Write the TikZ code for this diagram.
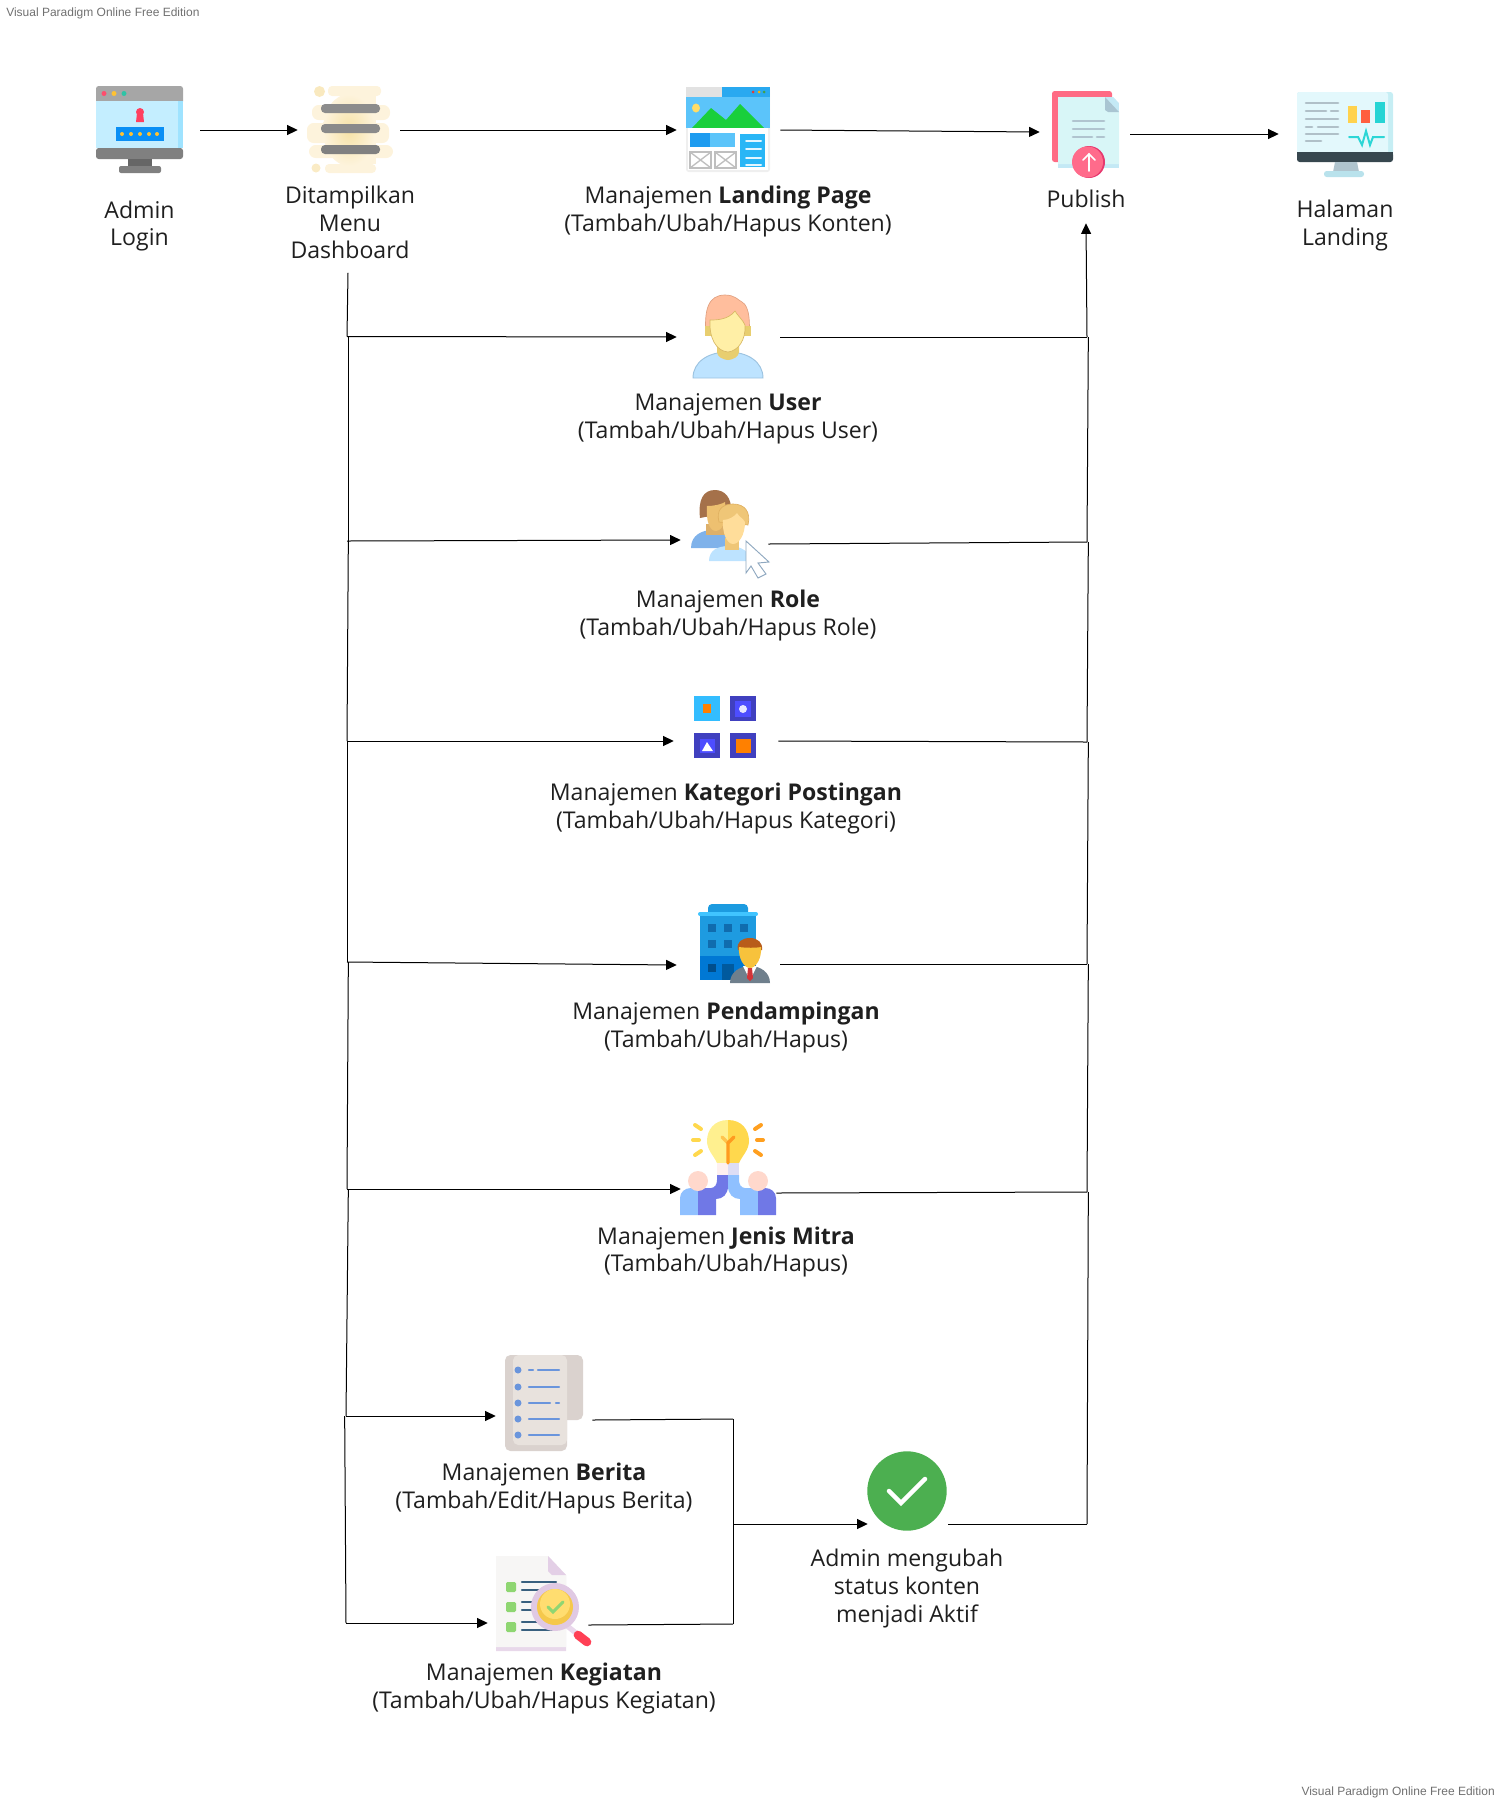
\documentclass[tikz,border=0pt]{standalone}
\usepackage{fontspec}
\setmainfont{Open Sans}
\newfontfamily\wmfont{Liberation Sans}
\usetikzlibrary{arrows.meta}
\definecolor{labelcol}{HTML}{1F1F1F}
\definecolor{wmcol}{HTML}{707070}
\definecolor{hairedge}{HTML}{E0A080}
\definecolor{shirtedge}{HTML}{9CC3E0}
\definecolor{faceedge}{HTML}{D8B864}
\definecolor{roleedge}{HTML}{E0B060}
\definecolor{cursoredge}{HTML}{8FA8C0}
\newcommand{\ic}[3][]{\definecolor{tmpc}{HTML}{#2}\fill[tmpc,#1] #3;}
\newcommand{\il}[3]{\definecolor{tmpc}{HTML}{#1}\draw[tmpc,line width=#2,line cap=round] #3;}
\tikzset{
iconbox/.style={ % Invisible box: connectors stop at its sides
inner sep=0pt,
minimum height=60pt,
minimum width=#1*0.75pt},
lbl/.style={ % Text under each icon
align=center,
inner sep=0pt,
text=labelcol,
font=\fontsize{17.3}{20.8}\selectfont},
wm/.style={
inner sep=0pt,
text=wmcol,
font=\wmfont\fontsize{9}{11}\selectfont},
flow/.style={
draw,
-{Triangle[length=8pt,width=7.5pt]},
line width=0.75pt},
link/.style={
draw,
line width=0.75pt}}
\begin{document}
\begin{tikzpicture}[x=0.75pt,y=-0.75pt]
\useasboundingbox (0,0) rectangle (1500,1800);

% boxes
\node[iconbox=120] (login) at (140,130) {};
\node[iconbox=102] (menu) at (349,130) {};
\node[iconbox=103] (landing) at (728.5,130) {};
\node[iconbox=90] (publish) at (1085,132) {};
\node[iconbox=121] (halaman) at (1339.5,134) {};
\node[iconbox=103] (user) at (728.5,337) {};
\node[iconbox=87] (role) at (724.5,540) {};
\node[iconbox=104] (kategori) at (726,741) {};
\node[iconbox=103] (pendampingan) at (728.5,965) {};
\node[iconbox=95] (jenis) at (728.5,1189) {};
\node[iconbox=96] (berita) at (544,1416) {};
\node[iconbox=100] (kegiatan) at (538,1623) {};
\node[iconbox=80] (aktif) at (908,1524) {};

% labels
\node[lbl] (loginlbl) at (139.5,226) {Admin\\Login};
\node[lbl,minimum height=75pt] (menulbl) at (350,222.5) {Ditampilkan\\Menu\\Dashboard};
\node[lbl] (landinglbl) at (728,211.5) {Manajemen \textbf{Landing Page}\\(Tambah/Ubah/Hapus Konten)};
\node[lbl,minimum height=36pt] (publishlbl) at (1086,199) {Publish};
\node[lbl] (halamanlbl) at (1345,225.5) {Halaman\\Landing};
\node[lbl] (userlbl) at (728,418.5) {Manajemen \textbf{User}\\(Tambah/Ubah/Hapus User)};
\node[lbl] (rolelbl) at (728,615.5) {Manajemen \textbf{Role}\\(Tambah/Ubah/Hapus Role)};
\node[lbl] (kategorilbl) at (726,808.5) {Manajemen \textbf{Kategori Postingan}\\(Tambah/Ubah/Hapus Kategori)};
\node[lbl] (pendampinganlbl) at (726,1027.5) {Manajemen \textbf{Pendampingan}\\(Tambah/Ubah/Hapus)};
\node[lbl] (jenislbl) at (726,1252) {Manajemen \textbf{Jenis Mitra}\\(Tambah/Ubah/Hapus)};
\node[lbl] (beritalbl) at (544,1488.5) {Manajemen \textbf{Berita}\\(Tambah/Edit/Hapus Berita)};
\node[lbl] (kegiatanlbl) at (544,1688.5) {Manajemen \textbf{Kegiatan}\\(Tambah/Ubah/Hapus Kegiatan)};
\node[lbl] (aktiflbl) at (907,1588.5) {Admin mengubah\\status konten\\menjadi Aktif};
\node[wm,anchor=west] (wmtop) at (6,13) {Visual Paradigm Online Free Edition};
\node[wm,anchor=east] (wmbottom) at (1495,1792) {Visual Paradigm Online Free Edition};

% corners of the two long lines
\coordinate (luser) at (347,336.5);
\coordinate (lrole) at (347,541);
\coordinate (lkategori) at (347,741);
\coordinate (lpendampingan) at (347,962);
\coordinate (ljenis) at (347,1189);
\coordinate (lberita) at (346,1416);
\coordinate (lkegiatan) at (346,1623);
\coordinate (ruser) at (1087,337);
\coordinate (rrole) at (1087,542);
\coordinate (rkategori) at (1087,742);
\coordinate (rpendampingan) at (1087,964);
\coordinate (rjenis) at (1087,1192);
\coordinate (raktif) at (1087,1524);
\coordinate (mberita) at (733,1419);
\coordinate (mkegiatan) at (733,1624);
\coordinate (maktif) at (733,1524);

% top row
\draw[flow] (login.east) -- (menu.west);
\draw[flow] (menu.east) -- (landing.west);
\draw[flow] (landing.east) -- (publish.west);
\draw[flow] ([yshift=-1.5pt]publish.east) -- (halaman.west);

% left side
\draw[link] ([xshift=-1.5pt]menulbl.south) -- (luser);
\draw[flow] (luser) -- (user.west);
\draw[link] ([xshift=1pt]luser) -- ([xshift=1pt]lrole) ;
\draw[flow] (lrole) -- (role.west);
\draw[link] ([xshift=1pt]lrole) -- (lkategori);
\draw[flow] (lkategori) -- (kategori.west);
\draw[link] (lkategori) -- (lpendampingan);
\draw[flow] (lpendampingan) -- (pendampingan.west);
\draw[link] ([xshift=1pt]lpendampingan) -- (ljenis);
\draw[flow] (ljenis) -- (jenis.west);
\draw[link] ([xshift=1pt]ljenis) -- (lberita);
\draw[flow] (lberita) -- (berita.west);
\draw[link] ([xshift=-1pt]lberita) -- (lkegiatan);
\draw[flow] (lkegiatan) -- (kegiatan.west);

% right side
\draw[link] (user.east) -- (ruser);
\draw[flow] (ruser) -- (publishlbl.south);
\draw[link] ([yshift=-3pt]role.east) -- (rrole);
\draw[link] (rrole) -- ([xshift=1pt]ruser);
\draw[link] (kategori.east) -- (rkategori);
\draw[link] (rkategori) -- ([xshift=1pt]rrole);
\draw[link] ([yshift=0.75pt]pendampingan.east) -- (rpendampingan);
\draw[link] (rpendampingan) -- ([xshift=1pt]rkategori);
\draw[link] ([yshift=-3pt]jenis.east) -- (rjenis);
\draw[link] (rjenis) -- ([xshift=1pt]rpendampingan);
\draw[link] (aktif.east) -- (raktif);
\draw[link] (raktif) -- ([xshift=1pt]rjenis);

% berita and kegiatan to aktif
\draw[link] ([yshift=-3pt]berita.east) -- (mberita);
\draw[link] (mberita) -- (mkegiatan);
\draw[link] ([yshift=-1.5pt]kegiatan.east) -- (mkegiatan);
\draw[flow] (maktif) -- (aktif.west);

% icon: login
\ic[rounded corners=2pt]{A6A6A6}{(96,86) rectangle (183,104)}
\ic{C4EEFF}{(96,101) rectangle (183,148)}
\ic{9FE3FF}{(178,101) rectangle (183,148)}
\ic[rounded corners=2pt]{808080}{(96,148) rectangle (183,159)}
\ic{666666}{(128,159) rectangle (152,166)}
\ic[rounded corners=1.5pt]{808080}{(119,166) rectangle (161,173)}
\ic{FF4D6D}{(104,93.5) circle (2.5)}
\ic{FFC233}{(114,93.5) circle (2.5)}
\ic{2EC4A6}{(124,93.5) circle (2.5)}
\ic{FF4060}{(140,112) circle (4)}
\ic{FF4060}{(136,122) -- (137,113) -- (143,113) -- (144,122) -- cycle}
\ic{0A8FF5}{(116,127) rectangle (164,141)}
\foreach \dotx in {122,131,140,149,157} {\ic{FFC233}{(\dotx,134) circle (2)}}

% icon: menu
\ic[rounded corners=3pt]{FDF3DC}{(328,86) rectangle (381,96)}
\ic[rounded corners=5pt]{FDF3DC}{(312,105) rectangle (390,120)}
\ic[rounded corners=5pt]{FDF3DC}{(307,123) rectangle (389,143)}
\ic[rounded corners=5pt]{FDF3DC}{(309,145) rectangle (393,158)}
\ic[rounded corners=3pt]{FDF3DC}{(325,164) rectangle (376,173)}
\ic{FDF3DC}{(340,96) rectangle (376,164)}
\ic{F9E9BF}{(319.5,91.5) circle (5.5)}
\ic{FAEBC5}{(316,168) circle (4.5)}
\definecolor{menuin}{HTML}{F6E2A6}\definecolor{menuout}{HTML}{FDF3DC}
\shade[inner color=menuin,outer color=menuout] (349,130) ellipse (26 and 36);
\ic[rounded corners=3pt]{8C8C8C}{(321,104) rectangle (380,113)}
\ic[rounded corners=3pt]{8A8A8A}{(321,124) rectangle (380,133)}
\ic[rounded corners=3pt]{808080}{(321,145) rectangle (380,154)}

% icon: landing page
\ic[rounded corners=2pt]{EFEFEF}{(686,87) rectangle (770,172)}
\ic{29A9F0}{(722,87) rectangle (770,97)}
\ic{5BC4FA}{(686,97) rectangle (770,128)}
\ic{E2E2E2}{(686,87) rectangle (722,97)}
\ic{E53935}{(753,92) circle (1.5)}
\ic{FFB300}{(759,92) circle (1.5)}
\ic{43A047}{(764,92) circle (1.5)}
\ic{FFDD66}{(696,108) ellipse (4 and 4.5)}
\ic{19CF3C}{(692,128) -- (711,108) -- (726,120) -- (740,104) -- (764,128) -- cycle}
\ic{FFFFFF}{(688,128) rectangle (768,170)}
\ic{5BC4FA}{(690,133) rectangle (735,147)}
\ic{1E9CF0}{(690,133) rectangle (710,147)}
\ic{29B6F6}{(740,134) rectangle (765,167)}
\foreach \liney in {141,149,158,165} {\il{E3F6FF}{1.5pt}{(746,\liney) -- (761,\liney)}}
\foreach \envx in {690,715} {
\draw[gray!50,fill=white,line width=1pt] (\envx,152) rectangle ++(21,16);
\draw[gray!50,line width=1pt] (\envx,152) -- ++(21,16) (\envx,168) -- ++(21,-16);
}

% icon: publish
\ic[rounded corners=2pt]{FF6B84}{(1052,91) rectangle (1112,162)}
\ic{C4E9F5}{(1058,97) rectangle (1119,168)}
\ic{D8F6F7}{(1058,97) -- (1105,97) -- (1119,112) -- (1119,164) -- (1058,164) -- cycle}
\ic{FFFFFF}{(1112.5,96) -- (1120,96) -- (1120,104) -- cycle}
\ic{A9C5D2}{(1105,97) -- (1105,110) -- (1108,112) -- (1119,112) -- cycle}
\foreach \liney in {121,129} {\il{B0C4CF}{2pt}{(1073,\liney) -- (1104,\liney)}}
\il{B0C4CF}{2pt}{(1073,137) -- (1092,137)}
\il{B0C4CF}{2pt}{(1097,137) -- (1104,137)}
\ic{E6396F}{(1089,162) circle (16)}
\ic{FF6B8B}{(1087.5,162) circle (15.5)}
\il{FFFFFF}{1.3pt}{(1089,171) -- (1089,154)}
\il{FFFFFF}{1.3pt}{(1083,160) -- (1089,154) -- (1095,160)}

% icon: halaman
\ic[rounded corners=2pt]{C6EEF4}{(1297,92) rectangle (1393,158)}
\ic[rounded corners=2pt]{E3F8FC}{(1297,92) rectangle (1388,156)}
\ic[rounded corners=2pt]{37474F}{(1297,152) rectangle (1393,162)}
\ic{37474F}{(1297,152) rectangle (1393,156)}
\ic{B0C4CE}{(1335,162) -- (1357,162) -- (1359,172) -- (1333,172) -- cycle}
\ic[rounded corners=2pt]{B9E2EC}{(1324,171) rectangle (1364,177)}
\foreach \liney in {103,119,134} {\il{B0C0C8}{2pt}{(1306,\liney) -- (1338,\liney)}}
\il{B0C0C8}{2pt}{(1306,111) -- (1326,111)}
\il{B0C0C8}{2pt}{(1331,111) -- (1338,111)}
\il{B0C0C8}{2pt}{(1306,127) -- (1312,127)}
\il{B0C0C8}{2pt}{(1318,127) -- (1338,127)}
\il{B0C0C8}{2pt}{(1306,141) -- (1321,141)}
\ic{FFD24D}{(1348,106) rectangle (1357,123)}
\ic{FF5F3F}{(1361,110) rectangle (1370,123)}
\ic{26D4D4}{(1375,102) rectangle (1385,123)}
\il{2CD6D6}{1.5pt}{(1349,137) -- (1358,137) -- (1362,145) -- (1366,131) -- (1370,145) -- (1373,137) -- (1384,137)}

% icon: user
\ic[draw=hairedge,line width=0.5pt]{FFBE9D}{(706,335) .. controls (704,310) and (708,295) .. (725,295) .. controls (735,295) and (738,300) .. (742,302) .. controls (750,306) and (750,325) .. (749,335) -- cycle}
\ic{E8CE6F}{(705,326) rectangle (751,336)}
\ic[draw=shirtedge,line width=0.7pt]{BDE3FF}{(693,378) .. controls (693,362) and (708,352) .. (728,352) .. controls (748,352) and (763,362) .. (763,378) -- cycle}
\ic[rounded corners=3pt]{E8CE6F}{(717,342) -- (739,342) -- (739,356) -- (728,361) -- (717,356) -- cycle}
\ic[draw=faceedge,line width=0.5pt]{FFEFA6}{(710,320) .. controls (716,320) and (728,320) .. (735,311) .. controls (737,315) and (743,320) .. (745,325) .. controls (746,340) and (738,351) .. (728,352) .. controls (716,351) and (709,338) .. (710,320) -- cycle}

% icon: role
\ic{7FB2EA}{(691,548) .. controls (691,535) and (702,530) .. (713,530) .. controls (725,530) and (735,537) .. (735,548) -- cycle}
\ic{A5714A}{(700,518) .. controls (698,500) and (703,490) .. (715,490) .. controls (725,490) and (732,498) .. (731,512) -- cycle}
\ic{DDB06A}{(706,524) rectangle (726,535)}
\ic{EDC070}{(707,506) .. controls (715,506) and (722,504) .. (725,502) .. controls (727,515) and (725,530) .. (716,531) .. controls (709,531) and (706,520) .. (707,506) -- cycle}
\ic[draw=roleedge,line width=0.5pt]{EFC677}{(719,522) .. controls (716,510) and (722,504) .. (733,504) .. controls (745,504) and (751,512) .. (748,525) -- cycle}
\ic{BDE3FF}{(709,561) .. controls (709,550) and (718,546) .. (729,546) .. controls (742,546) and (750,552) .. (750,561) -- cycle}
\ic{EFC677}{(725,538) rectangle (739,550)}
\ic{FFDD9A}{(723,520) .. controls (729,520) and (735,516) .. (737,513) .. controls (739,517) and (743,518) .. (745,522) .. controls (745,535) and (739,544) .. (733,544) .. controls (727,544) and (722,533) .. (723,520) -- cycle}
\ic[draw=cursoredge,line width=0.7pt]{FFFFFF}{(746,541) -- (769,562) -- (758,563) -- (766,574) -- (758,578) -- (751,566) -- (746,573) -- cycle}

% icon: kategori
\ic{33BDFF}{(694,696) rectangle (720,721)}
\ic{FF8000}{(703,704) rectangle (711,713)}
\ic{4040BF}{(730,696) rectangle (756,721)}
\ic{4D4DFF}{(735,701) rectangle (751,717)}
\ic{E6E6FF}{(743,709) circle (4)}
\ic{4040BF}{(694,733) rectangle (720,758)}
\ic{4D4DFF}{(700,739) rectangle (715,753)}
\ic{FFFFFF}{(702,751) -- (707,742) -- (713,751) -- cycle}
\ic{4040BF}{(730,733) rectangle (756,758)}
\ic{FF8000}{(736,739) rectangle (751,753)}

% icon: pendampingan
\ic[rounded corners=3pt]{1C9BE0}{(708,904) rectangle (748,916)}
\ic[rounded corners=1.5pt]{40C4FF}{(698,912) rectangle (758,916)}
\ic{1E9BE0}{(700,916) rectangle (756,956)}
\ic{0078D4}{(700,956) rectangle (756,980)}
\foreach \winx/\winy in {708/924,724/924,740/924,708/940,724/940} {\ic{106CAE}{(\winx,\winy) rectangle ++(8,8)}}
\ic{004E8C}{(708,964) rectangle ++(8,8)}
\ic{005A9E}{(722,964) rectangle (734,980)}
\ic{6F7F8C}{(730,983) .. controls (730,972) and (740,966) .. (750,966) .. controls (760,966) and (770,972) .. (770,983) -- cycle}
\ic{FFFFFF}{(743,966) -- (757,966) -- (750,980) -- cycle}
\ic{D13438}{(748,968) -- (752,968) -- (753,978) -- (750,981) -- (747,978) -- cycle}
\ic{B85C1A}{(738,950) .. controls (736,942) and (742,938) .. (750,938) .. controls (758,938) and (763,943) .. (762,950) -- cycle}
\ic{F7C23C}{(739,947) .. controls (746,948) and (756,948) .. (761,947) .. controls (762,958) and (756,968) .. (750,968) .. controls (744,968) and (738,958) .. (739,947) -- cycle}

% icon: jenis mitra
\il{FFD84D}{3pt}{(695,1125) -- (701,1129)}
\il{FFD84D}{3pt}{(693,1140) -- (699,1140)}
\il{FFD84D}{3pt}{(695,1155) -- (701,1151)}
\il{FF9F1F}{3pt}{(755,1129) -- (761,1125)}
\il{FF9F1F}{3pt}{(757,1140) -- (763,1140)}
\il{FF9F1F}{3pt}{(755,1151) -- (761,1155)}
\ic{FFF08F}{(728,1120) .. controls (714,1120) and (707,1130) .. (707,1141) .. controls (707,1150) and (714,1156) .. (717,1163) -- (728,1163) -- cycle}
\ic{FFD84D}{(728,1120) .. controls (742,1120) and (749,1130) .. (749,1141) .. controls (749,1150) and (742,1156) .. (739,1163) -- (728,1163) -- cycle}
\ic{FDF0F0}{(717,1163) rectangle (728,1177)}
\ic{DDDDF5}{(728,1163) rectangle (739,1177)}
\il{FFC44D}{2.5pt}{(722,1137) -- (728,1143)}
\il{FF9A1F}{2.5pt}{(734,1137) -- (728,1143) -- (728,1163)}
\ic{8FC0FF}{(680,1215) -- (680,1198) .. controls (680,1192) and (685,1188) .. (691,1188) -- (698,1188) -- (698,1215) -- cycle}
\ic{7078E6}{(698,1215) -- (698,1188) -- (711,1188) .. controls (715,1188) and (717,1184) .. (717,1180) -- (717,1175) -- (728,1175) -- (728,1186) .. controls (728,1194) and (723,1199) .. (716,1199) -- (716,1215) -- cycle}
\ic{8FC0FF}{(758,1215) -- (758,1188) -- (745,1188) .. controls (741,1188) and (739,1184) .. (739,1180) -- (739,1175) -- (728,1175) -- (728,1186) .. controls (728,1194) and (733,1199) .. (740,1199) -- (740,1215) -- cycle}
\ic{7078E6}{(776,1215) -- (776,1198) .. controls (776,1192) and (771,1188) .. (765,1188) -- (758,1188) -- (758,1215) -- cycle}
\ic{FFD8CC}{(698,1181) circle (10)}
\ic{FFD8CC}{(758,1181) circle (10)}

% icon: berita
\ic[rounded corners=4pt]{DAD2CE}{(545,1355) rectangle (583,1420)}
\ic[rounded corners=4pt]{DAD2CE}{(505,1355) rectangle (567,1451)}
\ic[rounded corners=4pt]{E8E2DD}{(513,1355) rectangle (567,1445)}
\foreach \liney in {1370,1387,1403,1419,1435} {\ic{6A95DC}{(518,\liney) circle (3.5)}}
\foreach \liney in {1387,1419,1435} {\il{6A95DC}{1.8pt}{(529,\liney) -- (559,\liney)}}
\il{6A95DC}{1.8pt}{(529,1370) -- (533,1370)}
\il{6A95DC}{1.8pt}{(538,1370) -- (559,1370)}
\il{6A95DC}{1.8pt}{(529,1403) -- (550,1403)}
\il{6A95DC}{1.8pt}{(556,1403) -- (559,1403)}

% icon: kegiatan
\ic{E8D8EA}{(496,1556) -- (548,1556) -- (566,1575) -- (566,1651) -- (496,1651) -- cycle}
\ic{F7F6F5}{(496,1556) -- (548,1556) -- (566,1575) -- (566,1647) -- (496,1647) -- cycle}
\ic{E3CFE6}{(548,1556) -- (566,1575) -- (552,1575) -- (548,1571) -- cycle}
\foreach \liney in {1582,1602,1622} {
\ic[rounded corners=1pt]{8FD672}{(506,\liney) rectangle ++(10,10)}
\il{39607F}{1.6pt}{(522,\liney) -- (556,\liney)}
\il{39607F}{1.6pt}{(522,\liney+8) -- (556,\liney+8)}
}
\il{EAD8EC}{4pt}{(566,1625) -- (576,1633)}
\il{FF4055}{6.5pt}{(578,1635) -- (587,1642)}
\ic{E0C9E3}{(555,1607) circle (24)}
\ic{F5C84C}{(555,1607) circle (18)}
\ic{FFDD70}{(555,1604) circle (15)}
\il{8FD672}{2.2pt}{(548,1607) -- (553,1612) -- (563,1602)}

% icon: aktif
\ic{4CAF50}{(907,1491) circle (39.7)}
\il{FFFFFF}{3.4pt}{(889,1491) -- (901,1503) -- (925,1479)}

\end{tikzpicture}
\end{document}
